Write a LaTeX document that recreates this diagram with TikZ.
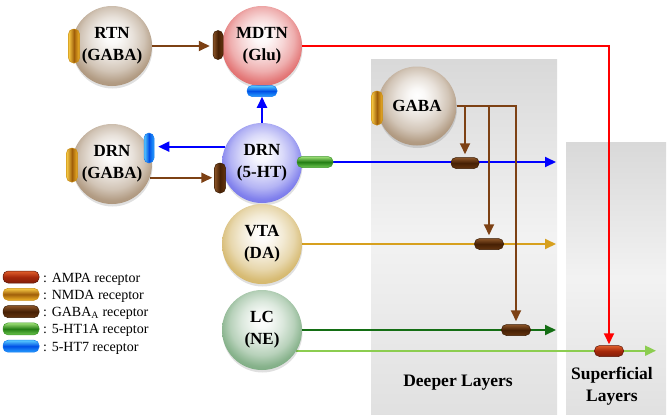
\documentclass[tikz,border=0pt]{standalone}
\usepackage{fontspec}
\setmainfont{Liberation Serif}
\usetikzlibrary{arrows.meta,shadows}
\pgfdeclarelayer{bg}
\pgfdeclarelayer{lines}
\pgfsetlayers{bg,lines,main}

\definecolor{spherecol}{RGB}{185,165,140}
\definecolor{gabac}{RGB}{172,148,122}
\definecolor{mdtnc}{RGB}{225,108,108}
\definecolor{drnc}{RGB}{118,118,235}
\definecolor{vtac}{RGB}{212,182,105}
\definecolor{lcc}{RGB}{125,172,130}

\definecolor{brownline}{RGB}{125,65,20}
\definecolor{goldline}{RGB}{215,160,30}
\definecolor{dkgreen}{RGB}{20,110,20}
\definecolor{ltgreen}{RGB}{140,205,80}

\definecolor{gaT}{RGB}{140,85,40}
\definecolor{gaM}{RGB}{70,32,4}
\definecolor{gaB}{RGB}{100,52,15}
\definecolor{gaO}{RGB}{55,25,0}
\definecolor{nmT}{RGB}{250,205,70}
\definecolor{nmM}{RGB}{160,95,10}
\definecolor{nmB}{RGB}{240,180,40}
\definecolor{nmO}{RGB}{200,140,20}
\definecolor{amT}{RGB}{225,95,45}
\definecolor{amM}{RGB}{165,40,10}
\definecolor{amB}{RGB}{130,30,10}
\definecolor{amO}{RGB}{90,20,5}
\definecolor{h1T}{RGB}{160,225,120}
\definecolor{h1M}{RGB}{35,125,20}
\definecolor{h1B}{RGB}{110,200,80}
\definecolor{h1O}{RGB}{60,150,40}
\definecolor{h7T}{RGB}{90,205,255}
\definecolor{h7M}{RGB}{0,80,230}
\definecolor{h7B}{RGB}{40,160,255}
\definecolor{h7O}{RGB}{20,120,240}

\pgfdeclareradialshading[spherecol]{sphereshade}{\pgfqpoint{0bp}{7bp}}{%
  color(0bp)=(white);
  color(5bp)=(spherecol!6!white);
  color(13bp)=(spherecol!28!white);
  color(20bp)=(spherecol!55!white);
  color(26bp)=(spherecol!92!white);
  color(29bp)=(spherecol);
  color(33bp)=(spherecol!55!white);
  color(50bp)=(spherecol!55!white)}

\begin{document}
\begin{tikzpicture}[x=1pt,y=-1pt,
  sphcol/.code={\colorlet{spherecol}{#1}},
  sph/.style={circle, minimum size=80pt, inner sep=0pt, align=center,
     font=\bfseries\fontsize{17}{22}\selectfont, text=black,
     sphcol=#1, shading=sphereshade,
     drop shadow={shadow xshift=0.5pt, shadow yshift=-2.5pt, opacity=0.12, fill=black}},
  rec/.style={rectangle, rounded corners=5pt, inner sep=0pt, draw=#1, line width=0.5pt},
  hrec/.style={minimum width=29pt, minimum height=11pt},
  vrec/.style={minimum width=11pt, minimum height=31pt, shading angle=90},
  gabaA/.style={rec=gaO, top color=gaT, bottom color=gaB, middle color=gaM},
  nmda/.style={rec=nmO, top color=nmT, bottom color=nmB, middle color=nmM},
  ampa/.style={rec=amO, top color=amT, bottom color=amB, middle color=amM},
  htA/.style={rec=h1O, top color=h1T, bottom color=h1B, middle color=h1M},
  htS/.style={rec=h7O, top color=h7T, bottom color=h7B, middle color=h7M},
  arr/.style={line width=1.9pt, -{Triangle[length=11pt,width=10pt]}},
  lbl/.style={font=\bfseries\fontsize{17.5}{22}\selectfont, align=center, inner sep=0pt},
  legtext/.style={font=\fontsize{14}{16}\selectfont, anchor=base west, inner sep=0pt}
]
\useasboundingbox (0,0) rectangle (669,418);

% layer panels
\begin{pgfonlayer}{bg}
  \path[top color=black!15, bottom color=black!12, middle color=black!5] (371,59) rectangle (557,414);
  \path[top color=black!15, bottom color=black!12, middle color=black!5] (566,142) rectangle (666,414);
\end{pgfonlayer}
\node[lbl] (deep) at (458,383) {Deeper Layers};
\node[lbl] (sup) at (612,386) {Superficial\\Layers};

% spheres
\node[sph=gabac] (rtn) at (112,46) {RTN\\(GABA)};
\node[sph=mdtnc] (mdtn) at (262,46) {MDTN\\(Glu)};
\node[sph=gabac] (drng) at (112,164) {DRN\\(GABA)};
\node[sph=drnc] (drn5) at (262,163) {DRN\\(5-HT)};
\node[sph=vtac] (vta) at (262,244) {VTA\\(DA)};
\node[sph=lcc] (lc) at (262,330) {LC\\(NE)};
\node[sph=gabac, minimum size=79pt] (gaba) at (417,106) {GABA};

% receptors
\node[nmda, vrec, minimum height=34pt] (n1) at (74,46) {};
\node[nmda, vrec, minimum height=34pt] (n2) at (72,165) {};
\node[nmda, vrec, minimum height=34pt] (n3) at (377,108) {};
\node[gabaA, vrec, minimum width=10pt, minimum height=29pt] (r1) at (218,45) {};
\node[gabaA, vrec, minimum height=30pt] (r2) at (220,178) {};
\node[htS, vrec, minimum width=10pt, minimum height=30pt] (s1) at (149,148) {};
\node[htS, hrec, minimum width=30pt] (s2) at (262,91) {};
\node[htA, hrec, minimum width=36pt] (h1) at (315,162) {};
\node[gabaA, hrec, minimum width=28pt] (rg1) at (465,163) {};
\node[gabaA, hrec] (rg2) at (489,244) {};
\node[gabaA, hrec] (rg3) at (516,330) {};
\node[ampa, hrec] (am) at (609,351) {};

% free ends
\coordinate (e1) at (556,162);
\coordinate (e2) at (556,244);
\coordinate (e3) at (556,330);
\coordinate (e4) at (656,351);

\begin{pgfonlayer}{lines}
  \draw[arr, brownline, shorten >=3pt] (rtn.east) -- (rtn.east -| r1.west);
  \draw[arr, brownline, shorten >=2pt] (drng.-20) -- (drng.-20 -| r2.west);
  \draw[arr, blue, shorten >=4pt] (drn5.156) -- (drn5.156 -| s1.east);
  \draw[arr, blue] (drn5.north) -- (s2.south);
  \draw[arr, blue] (h1.east) -- (e1);
  \draw[arr, goldline] (vta.east) -- (e2);
  \draw[arr, dkgreen] (lc.east) -- (e3);
  \draw[arr, ltgreen] (lc.-31) -- (lc.-31 -| e4);
  \draw[arr, red, shorten >=1pt] (mdtn.east) -| (am.north);
  \draw[arr, brownline, shorten >=3pt] (gaba.east) -| (rg1.north);
  \draw[arr, brownline, shorten >=3pt] (gaba.east) -| (rg2.north);
  \draw[arr, brownline, shorten >=3pt] (gaba.east) -| (rg3.north);
\end{pgfonlayer}

% legend
\node[ampa, hrec, minimum width=36pt, minimum height=12pt] (l1) at (21,277) {};
\node[nmda, hrec, minimum width=36pt, minimum height=12pt] (l2) at (21,294.3) {};
\node[gabaA, hrec, minimum width=36pt, minimum height=12pt] (l3) at (21,311.6) {};
\node[htA, hrec, minimum width=36pt, minimum height=12pt] (l4) at (21,328.9) {};
\node[htS, hrec, minimum width=36pt, minimum height=12pt] (l5) at (21,346.2) {};
\node[legtext] (t1) at (43,282) {: AMPA receptor};
\node[legtext] (t2) at (43,299.3) {: NMDA receptor};
\node[legtext] (t3) at (43,316.6) {: GABA\textsubscript{A} receptor};
\node[legtext] (t4) at (43,333.9) {: 5-HT1A receptor};
\node[legtext] (t5) at (43,351.2) {: 5-HT7 receptor};
\end{tikzpicture}
\end{document}
